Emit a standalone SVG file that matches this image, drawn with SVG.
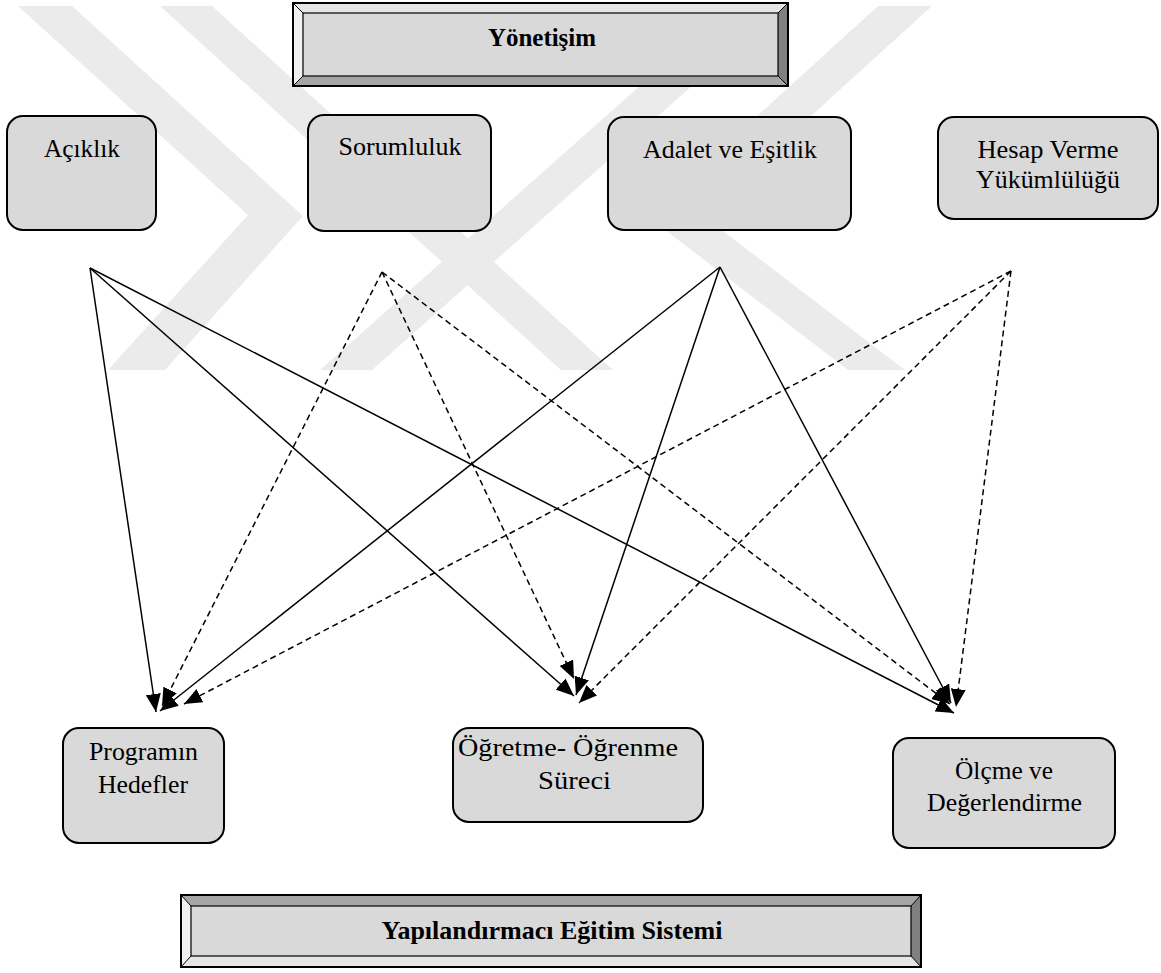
<svg xmlns="http://www.w3.org/2000/svg" width="1161" height="973" viewBox="0 0 1161 973">
<defs>
<style>
.node rect{fill:#d9d9d9;stroke:#000;stroke-width:2}
.t{font-family:"Liberation Serif","Times New Roman",serif;font-size:26px;fill:#000;text-anchor:middle}
.b{font-weight:bold}
.wm{fill:#ebebeb}
.c line{stroke:#000;stroke-width:1.5;marker-end:url(#ah)}
.c .d{stroke-dasharray:6 4}
</style>
<marker id="ah" viewBox="0 0 18 15" refX="18" refY="7.5" markerWidth="18" markerHeight="15" markerUnits="userSpaceOnUse" orient="auto">
<path d="M0,0 L18,7.5 L0,15 z" fill="#000"/>
</marker>
</defs>
<rect width="1161" height="973" fill="#fff"/>
<g id="watermark">
<polygon class="wm" points="18,6 72,6 303,216 165,370 108,370 248,215"/>
<polygon class="wm" points="878,6 932,6 702,215 905,370 848,370 647,216"/>
<polygon class="wm" points="160,6 212,6 613,370 561,370"/>
<polygon class="wm" points="730,6 782,6 372,370 320,370"/>
</g>
<g id="yonetisim">
<rect x="293" y="3" width="495" height="83" fill="#d9d9d9"/>
<polygon points="293,3 788,3 778,13 303,13" fill="#e6e6e6"/>
<polygon points="293,3 303,13 303,76 293,86" fill="#f0f0f0"/>
<polygon points="788,3 788,86 778,76 778,13" fill="#808080"/>
<polygon points="293,86 303,76 778,76 788,86" fill="#a6a6a6"/>
<rect x="303" y="13" width="475" height="63" fill="#d9d9d9" stroke="#000" stroke-width="1.2"/>
<path d="M293,3 L303,13 M788,3 L778,13 M293,86 L303,76 M788,86 L778,76" stroke="#000" stroke-width="1"/>
<rect x="293" y="3" width="495" height="83" fill="none" stroke="#000" stroke-width="2"/>
<text class="t b" x="542" y="46" textLength="108" lengthAdjust="spacingAndGlyphs">Yönetişim</text>
</g>
<g id="aciklik" class="node">
<rect x="7" y="116" width="149" height="114" rx="16"/>
<text class="t" x="82" y="157" textLength="76" lengthAdjust="spacingAndGlyphs">Açıklık</text>
</g>
<g id="sorumluluk" class="node">
<rect x="308" y="115" width="183" height="116" rx="16"/>
<text class="t" x="400" y="155" textLength="123" lengthAdjust="spacingAndGlyphs">Sorumluluk</text>
</g>
<g id="adalet" class="node">
<rect x="608" y="117" width="243" height="113" rx="16"/>
<text class="t" x="730" y="158" textLength="174" lengthAdjust="spacingAndGlyphs">Adalet ve Eşitlik</text>
</g>
<g id="hesap" class="node">
<rect x="938" y="117" width="220" height="102" rx="16"/>
<text class="t" x="1048" y="158" textLength="141" lengthAdjust="spacingAndGlyphs">Hesap Verme</text>
<text class="t" x="1048" y="188" textLength="144" lengthAdjust="spacingAndGlyphs">Yükümlülüğü</text>
</g>
<g id="connectors" class="c">
<line x1="90" y1="268" x2="156" y2="712"/>
<line x1="90" y1="268" x2="574" y2="696"/>
<line x1="90" y1="268" x2="954" y2="713"/>
<line class="d" x1="382" y1="272" x2="162" y2="706"/>
<line class="d" x1="382" y1="272" x2="574" y2="679"/>
<line class="d" x1="382" y1="272" x2="950" y2="704"/>
<line x1="720" y1="267" x2="160" y2="711"/>
<line x1="720" y1="267" x2="576" y2="695"/>
<line x1="720" y1="267" x2="951" y2="703"/>
<line class="d" x1="1011" y1="271" x2="184" y2="704"/>
<line class="d" x1="1011" y1="271" x2="579" y2="703"/>
<line class="d" x1="1011" y1="271" x2="956" y2="707"/>
</g>
<g id="programin" class="node">
<rect x="63" y="728" width="161" height="115" rx="16"/>
<text class="t" x="143.5" y="760" textLength="109" lengthAdjust="spacingAndGlyphs">Programın</text>
<text class="t" x="143" y="793" textLength="90" lengthAdjust="spacingAndGlyphs">Hedefler</text>
</g>
<g id="ogretme" class="node">
<rect x="453" y="728" width="250" height="94" rx="16"/>
<text class="t" x="568" y="756" textLength="220" lengthAdjust="spacingAndGlyphs">Öğretme- Öğrenme</text>
<text class="t" x="574.5" y="789" textLength="73" lengthAdjust="spacingAndGlyphs">Süreci</text>
</g>
<g id="olcme" class="node">
<rect x="893" y="738" width="222" height="110" rx="16"/>
<text class="t" x="1004" y="779" textLength="98" lengthAdjust="spacingAndGlyphs">Ölçme ve</text>
<text class="t" x="1004.5" y="811" textLength="155" lengthAdjust="spacingAndGlyphs">Değerlendirme</text>
</g>
<g id="yapilandirmaci">
<rect x="181" y="895" width="740" height="72" fill="#d9d9d9"/>
<polygon points="181,895 921,895 911,906 191,906" fill="#a6a6a6"/>
<polygon points="181,895 191,906 191,956 181,967" fill="#f0f0f0"/>
<polygon points="921,895 921,967 911,956 911,906" fill="#808080"/>
<polygon points="181,967 191,956 911,956 921,967" fill="#e6e6e6"/>
<rect x="191" y="906" width="720" height="50" fill="#d9d9d9" stroke="#000" stroke-width="1.2"/>
<path d="M181,895 L191,906 M921,895 L911,906 M181,967 L191,956 M921,967 L911,956" stroke="#000" stroke-width="1"/>
<rect x="181" y="895" width="740" height="72" fill="none" stroke="#000" stroke-width="2"/>
<text class="t b" x="552" y="939" textLength="341" lengthAdjust="spacingAndGlyphs">Yapılandırmacı Eğitim Sistemi</text>
</g>
</svg>
